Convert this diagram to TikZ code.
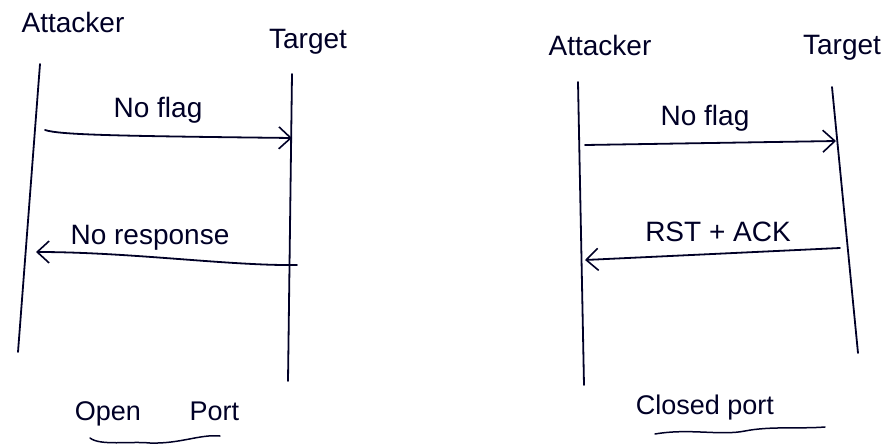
\documentclass[tikz,border=0pt]{standalone}
\usepackage{fontspec}
\setmainfont{Liberation Sans}
\usetikzlibrary{arrows.meta}
\begin{document}
\begin{tikzpicture}[x=1pt,y=-1pt,
  ink/.style={draw=black!85!blue, line width=1.8pt, line cap=round},
  msg/.style={ink, -{Straight Barb[length=12pt,width=22pt,line width=1.6pt]}},
  lbl/.style={text=black!85!blue, font=\fontsize{28}{30}\selectfont, inner sep=1pt},
  caption/.style={text=black!85!blue, font=\fontsize{27}{30}\selectfont, inner sep=1pt}]
\useasboundingbox (0,0) rectangle (892,447);
\fill[white] (0,0) rectangle (892,447);

% ---- open port exchange ----
\node[lbl] (a1) at (73,22) {Attacker};
\node[lbl] (t1) at (308,42) {Target};
\coordinate (a1top) at (40,64);
\coordinate (a1bot) at (18,352);
\coordinate (t1top) at (292,74);
\coordinate (t1bot) at (288,381);
\draw[ink] (a1top) -- (a1bot);
\draw[ink] (t1top) -- (t1bot);

\coordinate (m1s) at (45,130);
\coordinate (m1e) at (292,138);
\draw[msg] (m1s) .. controls (60,135) and (120,136) .. (m1e);
\node[lbl] (m1l) at (158,110) {No flag};

\coordinate (m2s) at (297,265);
\coordinate (m2e) at (36,252);
\draw[msg] (m2s) .. controls (230,266) and (130,252) .. (m2e);
\node[lbl] (m2l) at (150,238) {No response};

\node[caption] (op) at (157,414) {Open\hspace{1.8em}Port};
\coordinate (u1s) at (90,438);
\coordinate (u1e) at (220,436);
\draw[ink, line width=1.5pt] (u1s) .. controls (100,446) and (130,441) .. (150,443)
  .. controls (180,444) and (200,434) .. (u1e);

% ---- closed port exchange ----
\node[lbl] (a2) at (600,45) {Attacker};
\node[lbl] (t2) at (842,48) {Target};
\coordinate (a2top) at (578,82);
\coordinate (a2bot) at (584,385);
\coordinate (t2top) at (832,87);
\coordinate (t2bot) at (858,353);
\draw[ink] (a2top) -- (a2bot);
\draw[ink] (t2top) -- (t2bot);

\coordinate (m3s) at (585,145);
\coordinate (m3e) at (836,141);
\draw[msg] (m3s) -- (m3e);
\node[lbl] (m3l) at (705,118) {No flag};

\coordinate (m4s) at (840,248);
\coordinate (m4e) at (585,260);
\draw[msg] (m4s) -- (m4e);
\node[lbl] (m4l) at (718,232) {RST + ACK};

\node[caption] (cp) at (705,408) {Closed port};
\coordinate (u2s) at (655,434);
\coordinate (u2e) at (825,427);
\draw[ink, line width=1.5pt] (u2s) .. controls (690,428) and (720,436) .. (745,431)
  .. controls (770,426) and (800,429) .. (u2e);
\end{tikzpicture}
\end{document}
